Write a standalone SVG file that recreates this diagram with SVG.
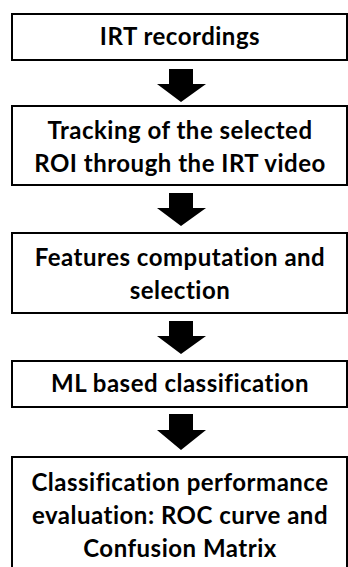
<svg xmlns="http://www.w3.org/2000/svg" width="348" height="567" viewBox="0 0 348 567">
<style>
.box{fill:#fff;stroke:#000;stroke-width:2}
.t{font-family:Lato,"Open Sans","Liberation Sans",sans-serif;font-weight:bold;font-size:24px;letter-spacing:0.5px;font-variant-ligatures:none;fill:#000;text-anchor:middle}
.arr{fill:#000}
</style>
<rect width="348" height="567" fill="#fff"/>
<g id="connectors">
<polygon class="arr" points="169,69 193,69 193,84 206,84 181,102 157,84 169,84"/>
<polygon class="arr" points="169,193 193,193 193,208 206,208 181,226 157,208 169,208"/>
<polygon class="arr" points="169,321 193,321 193,336 206,336 181,354 157,336 169,336"/>
<polygon class="arr" points="169,414 193,414 193,430 206,430 181,450 157,430 169,430"/>
</g>
<g id="n1">
<rect class="box" x="12" y="14" width="335" height="46"/>
<text class="t" x="180" y="45">IRT recordings</text>
</g>
<g id="n2">
<rect class="box" x="12" y="106" width="335" height="79"/>
<text class="t" x="180" y="139">Tracking of the selected</text>
<text class="t" x="180" y="172">ROI through the IRT video</text>
</g>
<g id="n3">
<rect class="box" x="12" y="233" width="335" height="80"/>
<text class="t" x="180" y="266">Features computation and</text>
<text class="t" x="180" y="299">selection</text>
</g>
<g id="n4">
<rect class="box" x="12" y="361" width="335" height="46"/>
<text class="t" x="180" y="392">ML based classification</text>
</g>
<g id="n5">
<rect class="box" x="12" y="457" width="335" height="115"/>
<text class="t" x="180" y="491">Classification performance</text>
<text class="t" x="180" y="524">evaluation: ROC curve and</text>
<text class="t" x="180" y="557">Confusion Matrix</text>
</g>
</svg>
